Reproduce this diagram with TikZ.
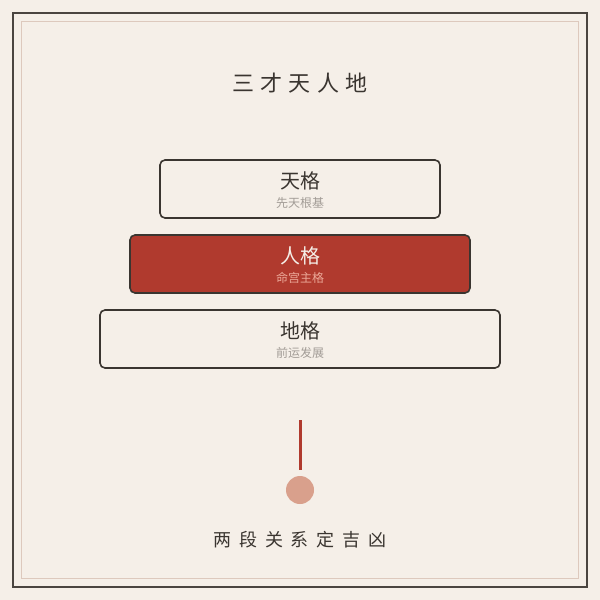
\documentclass[tikz,border=0pt]{standalone}
\usepackage{fontspec}
\newfontfamily\cjk{Noto Sans CJK SC}
\definecolor{bg}{HTML}{F5EFE8}
\definecolor{ink}{HTML}{3A3530}
\definecolor{frame}{HTML}{4A4540}
\definecolor{innerf}{HTML}{DDC9BD}
\definecolor{red}{HTML}{B03A2E}
\definecolor{subg}{HTML}{A29C96}
\definecolor{subr}{HTML}{EBA898}
\definecolor{dot}{HTML}{D9A08C}
\newcommand{\ls}[1]{\hspace{#1}}
\tikzset{
  lvl/.style={draw=ink, line width=1.6pt, rounded corners=5pt, fill=bg},
  lvlred/.style={draw=ink, line width=1.6pt, rounded corners=5pt, fill=red},
  mainlab/.style={font=\cjk\fontsize{20}{22}\selectfont, text=ink, inner sep=0pt},
  sublab/.style={font=\cjk\fontsize{12}{14}\selectfont, text=subg, inner sep=0pt},
  title/.style={font=\cjk\fontsize{22}{24}\selectfont, text=ink, inner sep=0pt},
}
\begin{document}
\begin{tikzpicture}[x=1pt,y=-1pt]
\useasboundingbox (0,0) rectangle (600,600);
\fill[bg] (0,0) rectangle (600,600);
\draw[frame, line width=2pt] (13,13) rectangle (587,587);
\draw[innerf, line width=1.8pt] (21.5,21.5) rectangle (578.5,578.5);
\node[title] (title) at (300,83) {三\ls{6.5pt}才\ls{6.5pt}天\ls{6.5pt}人\ls{6.5pt}地};
% levels
\draw[lvl] (160,160) rectangle (440,218);
\node[mainlab] (m1) at (300,181) {天格};
\node[sublab] (s1) at (300,203) {先天根基};
\draw[lvlred] (130,235) rectangle (470,293);
\node[mainlab, text=bg] (m2) at (300,256) {人格};
\node[sublab, text=subr] (s2) at (300,278) {命宫主格};
\draw[lvl] (100,310) rectangle (500,368);
\node[mainlab] (m3) at (300,331) {地格};
\node[sublab] (s3) at (300,353) {前运发展};
% stem and dot
\coordinate (top) at (300,420);
\coordinate (bot) at (300,470);
\node[circle, fill=dot, minimum size=28pt, inner sep=0pt] (dotn) at (300,490) {};
\draw[red, line width=3pt] (top) -- (bot);
\node[font=\cjk\fontsize{18}{20}\selectfont, text=ink, inner sep=0pt] (foot) at (300,540) {两\ls{7.7pt}段\ls{7.7pt}关\ls{7.7pt}系\ls{7.7pt}定\ls{7.7pt}吉\ls{7.7pt}凶};
\end{tikzpicture}
\end{document}
